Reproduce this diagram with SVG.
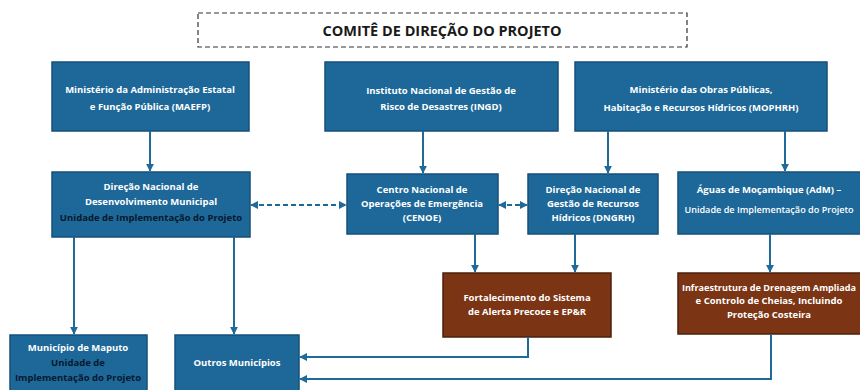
<svg xmlns="http://www.w3.org/2000/svg" width="860" height="390" viewBox="0 0 860 390">
<defs>
<marker id="ah" viewBox="0 0 10 10" refX="9" refY="5" markerWidth="4" markerHeight="4" orient="auto-start-reverse"><path d="M0,0 L10,5 L0,10 z" fill="#1f6a99"/></marker>
<style>
.b{fill:#1d6898;stroke:#14507a;stroke-width:1.5}
.r{fill:#7b3414;stroke:#4e200b;stroke-width:1.5}
.t{font-family:"Open Sans","Liberation Sans",sans-serif;font-weight:700;font-size:9.5px;fill:#ffffff;text-anchor:middle}
.u{font-family:"Open Sans","Liberation Sans",sans-serif;font-weight:700;font-size:9.5px;fill:#07182c;text-anchor:middle}
.c{fill:none;stroke:#1f6a99;stroke-width:2}
.d{stroke-dasharray:5,3}
</style>
</defs>
<rect width="860" height="390" fill="#ffffff"/>
<g id="comite">
<rect x="198" y="13" width="489" height="34" fill="#ffffff" stroke="#333" stroke-width="1.2" stroke-dasharray="5,3"/>
<text x="442" y="36" font-family="Open Sans, Liberation Sans, sans-serif" font-weight="700" font-size="14.5" fill="#1a1a1a" text-anchor="middle">COMITÊ DE DIREÇÃO DO PROJETO</text>
</g>
<g id="maefp"><rect class="b" x="52" y="62" width="197" height="69"/>
<text class="t" x="150" y="93">Ministério da Administração Estatal</text>
<text class="t" x="150" y="110">e Função Pública (MAEFP)</text></g>
<g id="ingd"><rect class="b" x="325" y="62" width="233" height="69"/>
<text class="t" x="441" y="94">Instituto Nacional de Gestão de</text>
<text class="t" x="441" y="110">Risco de Desastres (INGD)</text></g>
<g id="mophrh"><rect class="b" x="575" y="62" width="252" height="69"/>
<text class="t" x="701" y="93">Ministério das Obras Públicas,</text>
<text class="t" x="701" y="111">Habitação e Recursos Hídricos (MOPHRH)</text></g>
<g id="dndm"><rect class="b" x="52" y="172" width="198" height="65"/>
<text class="t" x="151" y="190">Direção Nacional de</text>
<text class="t" x="151" y="205">Desenvolvimento Municipal</text>
<text class="u" x="151" y="221">Unidade de Implementação do Projeto</text></g>
<g id="cenoe"><rect class="b" x="347" y="174" width="151" height="60"/>
<text class="t" x="422" y="193">Centro Nacional de</text>
<text class="t" x="422" y="207">Operações de Emergência</text>
<text class="t" x="422" y="221">(CENOE)</text></g>
<g id="dngrh"><rect class="b" x="528" y="174" width="130" height="60"/>
<text class="t" x="593" y="193">Direção Nacional de</text>
<text class="t" x="593" y="207">Gestão de Recursos</text>
<text class="t" x="593" y="221">Hídricos (DNGRH)</text></g>
<g id="adm"><rect class="b" x="678" y="172" width="190" height="62"/>
<text class="t" x="769" y="193">Águas de Moçambique (AdM) –</text>
<text class="t" x="769" y="213" style="font-weight:600;font-size:9.1px">Unidade de Implementação do Projeto</text></g>
<g id="fortalecimento"><rect class="r" x="443" y="273" width="168" height="64"/>
<text class="t" x="527" y="301">Fortalecimento do Sistema</text>
<text class="t" x="527" y="315">de Alerta Precoce e EP&amp;R</text></g>
<g id="infra"><rect class="r" x="678" y="273" width="190" height="61"/>
<text class="t" x="769" y="291" style="font-size:9.1px">Infraestrutura de Drenagem Ampliada</text>
<text class="t" x="769" y="304">e Controlo de Cheias, Incluindo</text>
<text class="t" x="769" y="318">Proteção Costeira</text></g>
<g id="maputo"><rect class="b" x="10" y="335" width="137" height="60"/>
<text class="t" x="78" y="351">Município de Maputo</text>
<text class="u" x="78" y="366">Unidade de</text>
<text class="u" x="78" y="381">Implementação do Projeto</text></g>
<g id="outros"><rect class="b" x="175" y="335" width="124" height="60"/>
<text class="t" x="237" y="366">Outros Municípios</text></g>
<g id="connectors">
<path class="c" d="M150,131 V171" marker-end="url(#ah)"/>
<path class="c" d="M423,131 V173" marker-end="url(#ah)"/>
<path class="c" d="M608,131 V173" marker-end="url(#ah)"/>
<path class="c" d="M785,131 V171" marker-end="url(#ah)"/>
<path class="c d" d="M251,205 H346" marker-start="url(#ah)" marker-end="url(#ah)"/>
<path class="c d" d="M499,205 H527" marker-start="url(#ah)" marker-end="url(#ah)"/>
<path class="c" d="M74,237 V334" marker-end="url(#ah)"/>
<path class="c" d="M234,237 V334" marker-end="url(#ah)"/>
<path class="c" d="M475,234 V272" marker-end="url(#ah)"/>
<path class="c" d="M575,234 V272" marker-end="url(#ah)"/>
<path class="c" d="M770,234 V272" marker-end="url(#ah)"/>
<path class="c" d="M528,337 V357 H300" marker-end="url(#ah)"/>
<path class="c" d="M771,334 V379 H300" marker-end="url(#ah)"/>
</g>
</svg>
